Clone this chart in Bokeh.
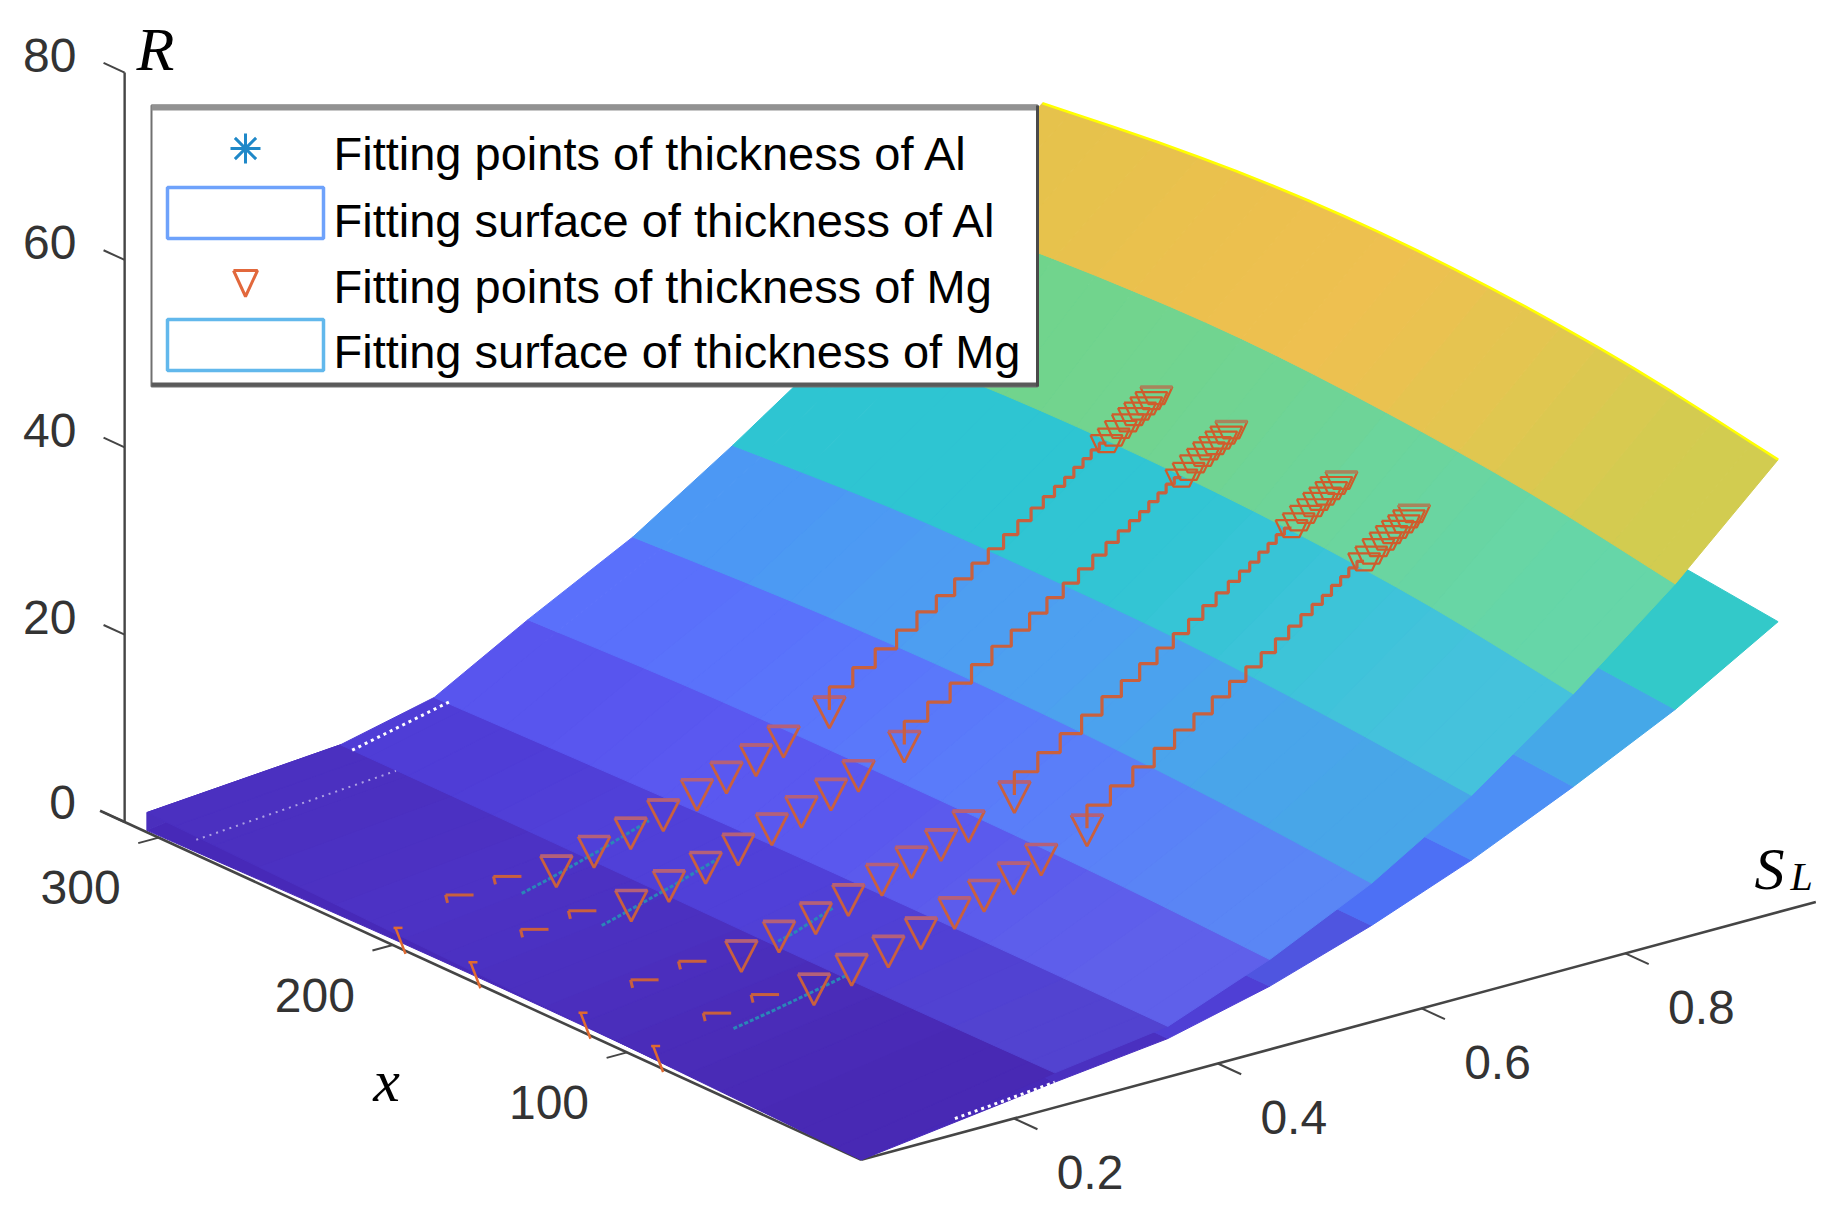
from bokeh.plotting import figure
from bokeh.embed import file_html
from bokeh.resources import INLINE
from bokeh.core.properties import value

# ---------------- data ----------------
x_grid = [0, 60, 120, 180, 240, 305]

# upper surface: boundaries of the colour bands
upper_SL = [
    [.05, .05, .05, .05, .05, .05],
    [.24, .24, .24, .24, .24, .24],
    [.351, .348, .344, .34, .336, .332],
    [.451, .446, .44, .435, .43, .424],
    [.551, .546, .541, .537, .532, .527],
    [.649, .644, .639, .634, .63, .625],
    [.749, .748, .746, .744, .742, .74],
    [.849, .845, .841, .837, .832, .828],
    [.95, .946, .942, .938, .933, .929],
]
upper_R = [
    [0, .4, .8, 1.2, 1.65, 2.1],
    [3.7, 3.6, 3.6, 3.7, 3.75, 3.75],
    [5.4, 5.7, 6.0, 6.2, 6.2, 6.1],
    [9.6, 10.6, 11.3, 11.7, 11.9, 11.7],
    [14.8, 16.4, 17.5, 18.0, 18.0, 17.5],
    [21.3, 23.1, 24.4, 25.0, 25.1, 24.4],
    [29.2, 31.6, 33.1, 33.8, 33.8, 33.0],
    [38.0, 40.9, 42.8, 43.9, 43.9, 43.0],
    [48.3, 51.3, 53.2, 54.0, 53.6, 52.0],
]
upper_colors = [
    ["#4829b4", "#4a2cb8", "#4b30c0", "#4c32c4", "#4b30c0"],
    ["#5243d0", "#5040d4", "#5040d8", "#5040d8", "#4f3dd6"],
    ["#5f60ea", "#5c5cec", "#5a58ee", "#5a58f0", "#5855ee"],
    ["#5a86f5", "#5a80f8", "#5a7afa", "#5a74fb", "#5a70fb"],
    ["#48a6e8", "#4aa4ec", "#4da0f0", "#4d9cf2", "#4c98f4"],
    ["#45c2dc", "#3cc4d8", "#32c5d4", "#2ec5d2", "#2ec5d2"],
    ["#66d6a8", "#6ad5a0", "#70d494", "#72d48e", "#70d48c"],
    ["#d2cc50", "#e2c650", "#eec050", "#ecc04e", "#e6c24c"],
]

# lower surface
lower_R = [
    [0, .5, .7, .7, .5, .2],
    [2.7, 2.9, 3.0, 3.1, 3.2, 3.2],
    [4.1, 4.6, 5.0, 5.2, 5.3, 5.3],
    [6.75, 7.3, 7.8, 8.1, 8.2, 8.2],
    [10.3, 11.0, 11.6, 12.0, 12.0, 12.0],
    [14.4, 15.4, 16.1, 16.5, 16.6, 16.5],
    [19.3, 20.6, 21.5, 22.0, 22.1, 21.8],
    [24.6, 26.2, 27.3, 28.0, 28.0, 27.6],
    [31.0, 33.0, 34.3, 35.0, 35.0, 34.5],
]
lower_colors = ["#4729b8", "#4a30c0", "#4f3fd5", "#4f55e0", "#4d70f5", "#4d8ff5", "#45a8e8", "#33c9c9"]

# fitting points of thickness of Mg (four runs at constant x)
mg_x = [195, 163, 116, 85]
mg_SL = [.05, .106, .153, .199, .236, .272, .304, .337, .366, .395, .422, .467,
         .49, .512, .533, .553, .572, .59, .607, .623, .638, .652, .665, .677,
         .688, .698, .707, .716, .724, .732, .739, .746, .753, .76, .766, .772,
         .778, .783, .788]
mg_R = [.8, 3.2, 3.8, 4.3, 5.3, 6.2, 7.2, 8.4, 9.4, 10.4, 11.6, 13.4,
        15.2, 16.6, 18, 19.4, 20.8, 22, 23.3, 24.5, 25.6, 26.7, 27.8, 28.8,
        29.7, 30.5, 31.2, 32, 32.7, 33.4, 33.9, 34.4, 35, 35.5, 36, 36.4,
        36.8, 37.2, 37.6]
# fitting points of thickness of Al (what shows through the surface)
al_x = [195, 163, 116, 85]
al_SL = [[.165, .19, .215, .24, .265, .29], [.17, .19, .215, .24, .265, .285],
         [.235, .25, .27, .29], [.12, .14, .16, .2, .23]]
al_R = [[2.7, 3.4, 4.2, 5.0, 5.9, 6.8], [2.8, 3.4, 4.2, 5.0, 5.9, 6.6],
        [4.6, 5.0, 5.8, 6.6], [2.2, 2.6, 3.0, 3.9, 4.6]]

R_ticks = [0, 20, 40, 60, 80]
x_ticks = [100, 200, 300]
SL_ticks = [0.2, 0.4, 0.6, 0.8]
R_labels = ["0", "20", "40", "60", "80"]
x_labels = ["100", "200", "300"]
SL_labels = ["0.2", "0.4", "0.6", "0.8"]
legend_labels = ["Fitting points of thickness of Al", "Fitting surface of thickness of Al",
                 "Fitting points of thickness of Mg", "Fitting surface of thickness of Mg"]

# ---------------- projection of the 3-D axes on the page ----------------
def px(x, s, r=0):
    return 860.7 - 2.342 * x + 1018.8 * (s - .05)

def py(x, s, r=0):
    return 1159.3 - 1.074 * x - 275.2 * (s - .05) - 9.368 * r

SUB = 4

def smooth(v):
    # drawn edge of the surface: a rounded curve through the read points
    out = []
    n = len(v)
    for i in range(n - 1):
        a, b, c, d = v[max(i - 1, 0)], v[i], v[i + 1], v[min(i + 2, n - 1)]
        for k in range(SUB):
            t = k / SUB
            out.append(.5 * (2 * b + (c - a) * t + (2 * a - 5 * b + 4 * c - d) * t * t + (3 * b - a - 3 * c + d) * t ** 3))
    out.append(v[-1])
    return out

def edge(b, rows):
    xs = [px(x, s) for x, s in zip(x_grid, upper_SL[b])]
    ys = [py(x, s, r) for x, s, r in zip(x_grid, upper_SL[b], rows[b])]
    return smooth(xs), smooth(ys)

def blend(cols, j):
    t = min(max((j + .5) / SUB - .5, 0), len(cols) - 1.0001)
    i = int(t)
    f = t - i
    a = [int(cols[i][q:q + 2], 16) for q in (1, 3, 5)]
    b = [int(cols[i + 1][q:q + 2], 16) for q in (1, 3, 5)]
    return "#%02x%02x%02x" % tuple(round(u + (w - u) * f) for u, w in zip(a, b))

# the page here has no offset: the figure starts at the window's corner
p = figure(width=1820, height=1208, x_range=(0, 1820), y_range=(1208, 0),
           output_backend="svg", toolbar_location=None, min_border=0,
           x_axis_location=None, y_axis_location=None, outline_line_color=None)
p.grid.visible = False

AX = "#454545"
FONT = value("Liberation Sans")

# 3-D axes
R_axis_x = 314.5
p.line([px(R_axis_x, .05)] * 2, [py(R_axis_x, .05, 0), py(R_axis_x, .05, 80)], line_color=AX, line_width=2.4)
p.line([px(0, .05), px(325, .05)], [py(0, .05), py(325, .05)], line_color=AX, line_width=2.6)
p.line([px(0, .05), px(0, .987)], [py(0, .05), py(0, .987)], line_color=AX, line_width=2.6)

for r in R_ticks:
    p.line([px(R_axis_x, .05, r), px(R_axis_x + 9, .05, r)],
           [py(R_axis_x, .05, r), py(R_axis_x + 9, .05, r)], line_color=AX, line_width=2)
for t in x_ticks:
    p.line([px(t, .05), px(t, .03)], [py(t, .05), py(t, .03)], line_color=AX, line_width=2)
for t in SL_ticks:
    p.line([px(0, t), px(-10, t)], [py(0, t), py(-10, t)], line_color=AX, line_width=2)

# surfaces: lower first, upper on top
lx, ly, lc = [], [], []
for b in range(8):
    ax_, ay_ = edge(b, lower_R)
    bx_, by_ = edge(b + 1, lower_R)
    lx.append(ax_ + bx_[::-1])
    ly.append(ay_ + by_[::-1])
    lc.append(lower_colors[b])
p.patches(lx, ly, fill_color=lc, line_color=lc, line_width=1)

# closes the corner between the two surfaces at the far end
p.patch([px(305, .05), px(305, .05), px(305, .24), px(305, .24)],
        [py(305, .05, lower_R[0][5]), py(305, .05, upper_R[0][5]),
         py(305, .24, upper_R[1][5]), py(305, .24, lower_R[1][5])],
        fill_color="#4a2fbd", line_color="#4a2fbd", line_width=1)

ux, uy, uc = [], [], []
for b in range(8):
    ax_, ay_ = edge(b, upper_R)
    bx_, by_ = edge(b + 1, upper_R)
    for j in range(len(ax_) - 1):
        ux.append([ax_[j], ax_[j + 1], bx_[j + 1], bx_[j]])
        uy.append([ay_[j], ay_[j + 1], by_[j + 1], by_[j]])
        uc.append(blend(upper_colors[b], j))
p.patches(ux, uy, fill_color=uc, line_color=uc, line_width=1)

# yellow rim of the top edge
tx_, ty_ = edge(8, upper_R)
p.line(tx_, ty_, line_color="#ffff00", line_width=2.6)

# white mesh dots that show through
p.line([px(300, .24), px(300, .335)], [py(300, .24, 3.75), py(300, .335, 6.1)],
       line_color="white", line_width=3, line_dash="3 4")
p.line([px(0, .142), px(0, .24)], [py(0, .142, 1.7), py(0, .24, 2.7)],
       line_color="white", line_width=3, line_dash="3 4")
p.line([px(290, .064), px(290, .26)], [py(290, .064, .5), py(290, .26, 2.1)],
       line_color="white", line_width=2, line_dash="2 5", line_alpha=.55)

# Al points
for ax_, s_, r_ in zip(al_x, al_SL, al_R):
    p.line([px(ax_, s) for s in s_], [py(ax_, s, r) for s, r in zip(s_, r_)],
           line_color="#2a86b8", line_width=3, line_dash="4 2")

# Mg points
MG = "#c9603e"
TOP = "#b4607a"
tw, th = 16, 31
full = range(3, 12)
for mx in mg_x:
    cx = [px(mx, s) for s in mg_SL]
    cy = [py(mx, s, r) for s, r in zip(mg_SL, mg_R)]
    # clipped at the axis
    p.multi_line([[cx[0] - 9, cx[0] + 1], [cx[0] - 2, cx[0] - 11]],
                 [[cy[0] - 15, cy[0] + 11], [cy[0] - 15, cy[0] - 15]],
                 line_color="#e06a30", line_width=2.5)
    # only the top edge is above the surface
    for i in (1, 2):
        p.multi_line([[cx[i] - tw, cx[i] + tw - 4], [cx[i] - tw, cx[i] - tw + 2]],
                     [[cy[i] - 10, cy[i] - 10], [cy[i] - 10, cy[i] - 2]],
                     line_color=MG, line_width=3)
    # whole triangles
    fx, fy = [cx[i] for i in full], [cy[i] for i in full]
    p.multi_line([[x - tw, x + tw, x, x - tw] for x in fx],
                 [[y - 13, y - 13, y + 18, y - 13] for y in fy],
                 line_color=MG, line_width=2.8)
    p.multi_line([[x - tw, x + tw] for x in fx], [[y - 13, y - 13] for y in fy],
                 line_color=TOP, line_width=3.6)
    # stair of clipped triangles
    zx, zy = cx[11:31], cy[11:31]
    p.step(zx, zy, mode="before", line_color=MG, line_width=3.2)
    # dense stack at the end of the run
    dx, dy = cx[30:], cy[30:]
    p.multi_line([[x - tw, x + tw, x + 8, x - 8, x - tw] for x in dx],
                 [[y - 8, y - 8, y + 9, y + 9, y - 8] for y in dy],
                 line_color="#cf5c2c", line_width=2.2)
    p.line([dx[-1] - tw, dx[-1] + tw], [dy[-1] - 8, dy[-1] - 8], line_color="#a8845c", line_width=3.5)

# tick labels
p.text([px(R_axis_x, .05) - 75 if r else px(R_axis_x, .05) - 62 for r in R_ticks],
       [py(R_axis_x, .05, r) + (-17 if r else -20) for r in R_ticks],
       text=R_labels, text_font=FONT, text_font_size="48px", text_color="#333333",
       text_align="center", text_baseline="middle")
p.text([px(t, .05) - 78 for t in x_ticks], [py(t, .05) + 50 for t in x_ticks],
       text=x_labels, text_font=FONT, text_font_size="48px", text_color="#333333",
       text_align="center", text_baseline="middle")
p.text([px(0, t) + 76 for t in SL_ticks], [py(0, t) + 54 for t in SL_ticks],
       text=SL_labels, text_font=FONT, text_font_size="48px", text_color="#333333",
       text_align="center", text_baseline="middle")

# axis titles
SERIF = value("Liberation Serif")
p.text([155], [48], text=["R"], text_font=SERIF, text_font_style="italic", text_font_size="62px",
       text_color="black", text_align="center", text_baseline="middle")
p.text([386], [1080], text=["x"], text_font=SERIF, text_font_style="italic", text_font_size="60px",
       text_color="black", text_align="center", text_baseline="middle")
p.text([1769], [868], text=["S"], text_font=SERIF, text_font_style="italic", text_font_size="60px",
       text_color="black", text_align="center", text_baseline="middle")
p.text([1801], [876], text=["L"], text_font=SERIF, text_font_style="italic", text_font_size="40px",
       text_color="black", text_align="center", text_baseline="middle")

# legend box
p.quad(left=[151], right=[1037], top=[105], bottom=[386], fill_color="white",
       line_color="#707070", line_width=2)
p.line([151, 1037], [107, 107], line_color="#929292", line_width=6)
p.line([151, 1037], [384, 384], line_color="#5a5a5a", line_width=4)
p.line([1037, 1037], [105, 386], line_color="#4a4a4a", line_width=3)
p.scatter([245], [148], marker="asterisk", size=30, line_color="#1f88c8", line_width=3, fill_alpha=0)
p.quad(left=[167], right=[323], top=[187], bottom=[238], fill_alpha=0, line_color="#6ea2fb", line_width=3.5)
p.multi_line([[233, 257, 245, 233]], [[270, 270, 296, 270]], line_color="#e2683c", line_width=3)
p.quad(left=[167], right=[323], top=[319], bottom=[370], fill_alpha=0, line_color="#62b8ec", line_width=3.5)
p.text([333, 333, 333, 333], [153, 220, 286, 351], text=legend_labels, text_font=FONT,
       text_font_size="47px", text_color="black", text_align="left", text_baseline="middle")

open("out.html", "w").write(file_html(p, INLINE))
